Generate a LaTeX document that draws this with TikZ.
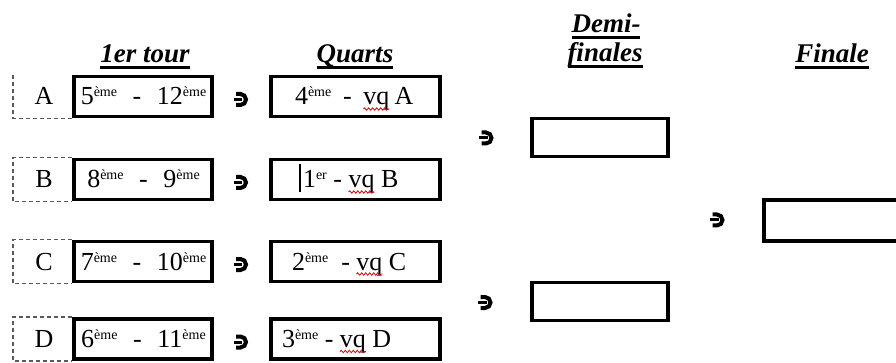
\documentclass[tikz,border=0pt]{standalone}
\usepackage{fontspec}
\setmainfont{Liberation Serif}
\usetikzlibrary{decorations.pathmorphing}
\newcommand\sps[1]{\raisebox{8pt}{\fontsize{14}{14}\selectfont #1}}
\newcommand\gapdash{\kern0.6em-\kern0.6em}
\begin{document}
\begin{tikzpicture}[x=1pt,y=-1pt,
  framebox/.style={draw, line width=3.8pt, inner sep=0, minimum height=40pt},
  rbox/.style={framebox, minimum width=138.5pt},
  qbox/.style={framebox, minimum width=168.5pt},
  sbox/.style={framebox, minimum width=136.5pt, minimum height=38pt},
  dashedge/.style={draw=black!65, line width=1.5pt, dash pattern=on 4pt off 3pt},
  txt/.style={inner sep=0, outer sep=0, font=\fontsize{26}{30}\selectfont},
  title/.style={inner sep=0, outer sep=0, font=\fontsize{27}{30}\selectfont\bfseries\itshape, anchor=base},
  uline/.style={line width=2.2pt},
  wave/.style={draw=red!85!black, line width=0.8pt, decorate, decoration={snake, amplitude=1.2pt, segment length=4pt}},
  turnsym/.pic={
    \draw[line width=4pt] (-4.5,-5.5) -- (0,-5.5) arc[start angle=270,end angle=450,radius=5.5] -- (-4.5,5.5);
    \fill (-7,-1.5) rectangle (1.5,1.5);
  }
]
\useasboundingbox (0,0) rectangle (896,363);
\clip (0,0) rectangle (896,363);

% titles
\node[title] (t1) at (145,63) {1er tour};
\node[title] (t2) at (355,63) {Quarts};
\node[title] (t3a) at (606,33) {Demi-};
\node[title] (t3b) at (605,62) {finales};
\node[title] (t4) at (832,63) {Finale};
\foreach \t in {t1,t2,t3a,t3b,t4}
  \draw[uline] ([yshift=-4.5pt]\t.base west) -- ([yshift=-4.5pt]\t.base east);

% first round boxes
\node[rbox] (ra) at (143,96.5) {};
\node[rbox] (rb) at (143,179.5) {};
\node[rbox] (rc) at (143,261.5) {};
\node[rbox] (rd) at (143,339) {};

% dashed label frames
\coordinate (lx) at (13,0);
\draw[dashedge] (ra.south west) -- (ra.south west -| lx) -- (ra.north west -| lx);
\draw[dashedge] (rb.north west) -- (rb.north west -| lx) -- (rb.south west -| lx) -- (rb.south west);
\draw[dashedge] (rc.north west) -- (rc.north west -| lx) -- (rc.south west -| lx) -- (rc.south west);
\draw[dashedge] (rd.north west) -- (rd.north west -| lx) -- (rd.south west -| lx) -- (rd.south west);

\node[txt, anchor=base] (la) at (44,105) {A};
\node[txt, anchor=base] (lb) at (44,188) {B};
\node[txt, anchor=base] (lc) at (44,270) {C};
\node[txt, anchor=base] (ld) at (44,347.5) {D};

\node[txt, anchor=base] (xa) at (143.5,105) {5\sps{ème}\gapdash 12\sps{ème}};
\node[txt, anchor=base] (xb) at (143.5,188) {8\sps{ème}\gapdash 9\sps{ème}};
\node[txt, anchor=base] (xc) at (143.5,270) {7\sps{ème}\gapdash 10\sps{ème}};
\node[txt, anchor=base] (xd) at (143.5,347.5) {6\sps{ème}\gapdash 11\sps{ème}};

% quarter boxes
\node[qbox] (qa) at (355.5,96.5) {};
\node[qbox] (qb) at (355.5,179.5) {};
\node[qbox] (qc) at (355.5,261.5) {};
\node[qbox] (qd) at (355.5,339) {};

\node[txt, anchor=base west] (qa1) at (295,105) {4\sps{ème}\kern0.45em-\kern0.45em};
\node[txt, anchor=base west] (qa2) at (qa1.base east) {vq};
\node[txt, anchor=base west] (qa3) at (qa2.base east) {\kern0.2em A};

\draw[line width=1.6pt] (300,164) -- (300,192);
\node[txt, anchor=base west] (qb1) at (303,188) {1\sps{er}\kern0.25em-\kern0.25em};
\node[txt, anchor=base west] (qb2) at (qb1.base east) {vq};
\node[txt, anchor=base west] (qb3) at (qb2.base east) {\kern0.25em B};

\node[txt, anchor=base west] (qc1) at (292,270) {2\sps{ème}\kern0.5em-\kern0.25em};
\node[txt, anchor=base west] (qc2) at (qc1.base east) {vq};
\node[txt, anchor=base west] (qc3) at (qc2.base east) {\kern0.25em C};

\node[txt, anchor=base west] (qd1) at (282,347.5) {3\sps{ème}\kern0.25em-\kern0.25em};
\node[txt, anchor=base west] (qd2) at (qd1.base east) {vq};
\node[txt, anchor=base west] (qd3) at (qd2.base east) {\kern0.25em D};

\foreach \v in {qa2,qb2,qc2,qd2}
  \draw[wave] ([yshift=-4pt]\v.base west) -- ([yshift=-4pt]\v.base east);

% semi-finals and final
\node[sbox] (s1) at (600,137.5) {};
\node[sbox] (s2) at (600,301.5) {};
\node[sbox, minimum height=41pt] (f1) at (832,220.5) {};

% turn symbols
\pic (p1) at (240.5,99.5) {turnsym};
\pic (p2) at (240.5,182.5) {turnsym};
\pic (p3) at (240.5,264.5) {turnsym};
\pic (p4) at (240.5,342) {turnsym};
\pic (p5) at (486,138) {turnsym};
\pic (p6) at (485,302.5) {turnsym};
\pic (p7) at (717,220) {turnsym};
\end{tikzpicture}
\end{document}
